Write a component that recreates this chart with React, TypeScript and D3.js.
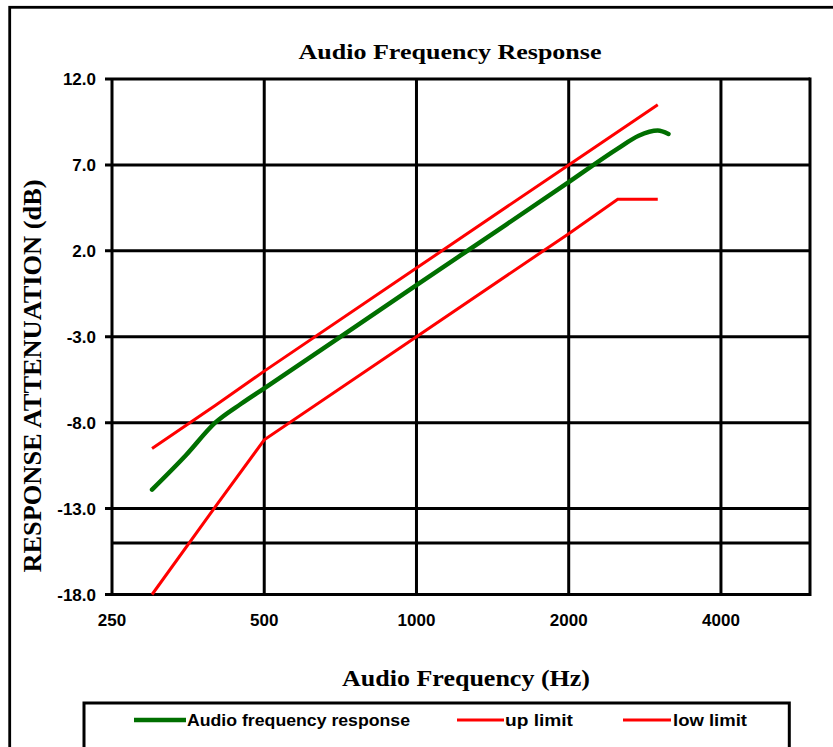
import React from "react";
import * as d3 from "d3";

const responseFreq = [300, 350, 400, 450, 500, 700, 1000, 1500, 2000, 2500, 2750, 3000, 3150];
const responseDb = [-11.9, -9.9, -8.0, -6.9, -6.0, -3.1, 0.0, 3.5, 6.0, 7.95, 8.7, 9.0, 8.8];

const upFreq = [300, 400, 500, 1000, 2000, 3000];
const upDb = [-9.5, -7.0, -5.0, 1.0, 7.0, 10.5];

const lowFreq = [300, 400, 500, 1000, 2000, 2500, 3000];
const lowDb = [-18.0, -12.9, -9.0, -3.0, 3.0, 5.0, 5.0];

const yTicks = [12, 7, 2, -3, -8, -13, -18];
const yTickLabels = ["12.0", "7.0", "2.0", "-3.0", "-8.0", "-13.0", "-18.0"];
const extraGrid = [-15];
const xTicks = [250, 500, 1000, 2000, 4000];
const xTickLabels = ["250", "500", "1000", "2000", "4000"];

const title = "Audio Frequency Response";
const xTitle = "Audio Frequency (Hz)";
const yTitle = "RESPONSE ATTENUATION (dB)";
const legendLabels = ["Audio frequency response", "up limit", "low limit"];

const GREEN = "#006f00";
const RED = "#ff0000";

export default function App() {
  const W = 833;
  const H = 747;
  const left = 112;
  const right = 810;
  const top = 79;
  const bottom = 594.5;

  const x = d3.scaleLog().domain([250, 6000]).range([left, right]);
  const y = d3.scaleLinear().domain([-18, 12]).range([bottom, top]);

  const mk = (fs: number[], vs: number[]) => fs.map((f, i) => [f, vs[i]] as [number, number]);

  const smooth = d3
    .line<[number, number]>()
    .x((d) => x(d[0]))
    .y((d) => y(d[1]))
    .curve(d3.curveMonotoneX);
  const straight = d3
    .line<[number, number]>()
    .x((d) => x(d[0]))
    .y((d) => y(d[1]));

  const sans = "'Liberation Sans', Arial, sans-serif";
  const serif = "'Liberation Serif', 'Times New Roman', serif";

  const legendY = 720;
  const legendItems = [
    { color: GREEN, width: 4.5, x1: 134, x2: 186, tx: 187, tl: 223, label: legendLabels[0] },
    { color: RED, width: 3, x1: 457, x2: 504, tx: 505, tl: 68, label: legendLabels[1] },
    { color: RED, width: 3, x1: 623, x2: 671, tx: 673, tl: 74, label: legendLabels[2] },
  ];

  return (
    <svg
      width={W}
      height={H}
      style={{ position: "absolute", left: 0, top: 0, background: "#fff" }}
    >
      <rect x={0} y={0} width={W} height={H} fill="#fff" />
      {/* outer frame */}
      <rect x={9.7} y={7.3} width={900} height={900} fill="none" stroke="#000" strokeWidth={2.8} />

      {/* title */}
      <text
        x={450}
        y={59}
        textAnchor="middle"
        fontFamily={serif}
        fontWeight="bold"
        fontSize={21}
        textLength={303}
        lengthAdjust="spacingAndGlyphs"
      >
        {title}
      </text>

      {/* horizontal grid lines with left ticks */}
      {yTicks.map((v) => (
        <line key={"h" + v} x1={105} x2={right} y1={y(v)} y2={y(v)} stroke="#000" strokeWidth={3} />
      ))}
      {extraGrid.map((v) => (
        <line key={"e" + v} x1={left} x2={right} y1={y(v)} y2={y(v)} stroke="#000" strokeWidth={3} />
      ))}
      {/* vertical grid lines */}
      {xTicks.map((v) => (
        <line key={"v" + v} x1={x(v)} x2={x(v)} y1={top} y2={bottom} stroke="#000" strokeWidth={3} />
      ))}
      <line x1={right} x2={right} y1={top - 1.5} y2={bottom + 1.5} stroke="#000" strokeWidth={3} />

      {/* y tick labels */}
      {yTicks.map((v, i) => (
        <text
          key={"yl" + v}
          x={96}
          y={y(v)}
          dy="0.36em"
          textAnchor="end"
          fontFamily={sans}
          fontWeight="bold"
          fontSize={17}
        >
          {yTickLabels[i]}
        </text>
      ))}
      {/* x tick labels */}
      {xTicks.map((v, i) => (
        <text
          key={"xl" + v}
          x={x(v)}
          y={626}
          textAnchor="middle"
          fontFamily={sans}
          fontWeight="bold"
          fontSize={17}
        >
          {xTickLabels[i]}
        </text>
      ))}

      {/* series */}
      <path d={straight(mk(lowFreq, lowDb)) || ""} fill="none" stroke={RED} strokeWidth={3} />
      <path d={straight(mk(upFreq, upDb)) || ""} fill="none" stroke={RED} strokeWidth={3} />
      <path
        d={smooth(mk(responseFreq, responseDb)) || ""}
        fill="none"
        stroke={GREEN}
        strokeWidth={4.5}
        strokeLinecap="round"
      />

      {/* axis titles */}
      <text
        x={466}
        y={686}
        textAnchor="middle"
        fontFamily={serif}
        fontWeight="bold"
        fontSize={23}
        textLength={248}
        lengthAdjust="spacingAndGlyphs"
      >
        {xTitle}
      </text>
      <text
        transform={`translate(41, 376) rotate(-90)`}
        textAnchor="middle"
        fontFamily={serif}
        fontWeight="bold"
        fontSize={25}
        textLength={393}
        lengthAdjust="spacingAndGlyphs"
      >
        {yTitle}
      </text>

      {/* legend */}
      <rect x={84} y={703} width={705.3} height={100} fill="none" stroke="#000" strokeWidth={3} />
      {legendItems.map((it) => (
        <g key={it.label}>
          <line x1={it.x1} x2={it.x2} y1={legendY} y2={legendY} stroke={it.color} strokeWidth={it.width} />
          <text
            x={it.tx}
            y={legendY}
            dy="0.36em"
            fontFamily={sans}
            fontWeight="bold"
            fontSize={16}
            textLength={it.tl}
            lengthAdjust="spacingAndGlyphs"
          >
            {it.label}
          </text>
        </g>
      ))}
    </svg>
  );
}
